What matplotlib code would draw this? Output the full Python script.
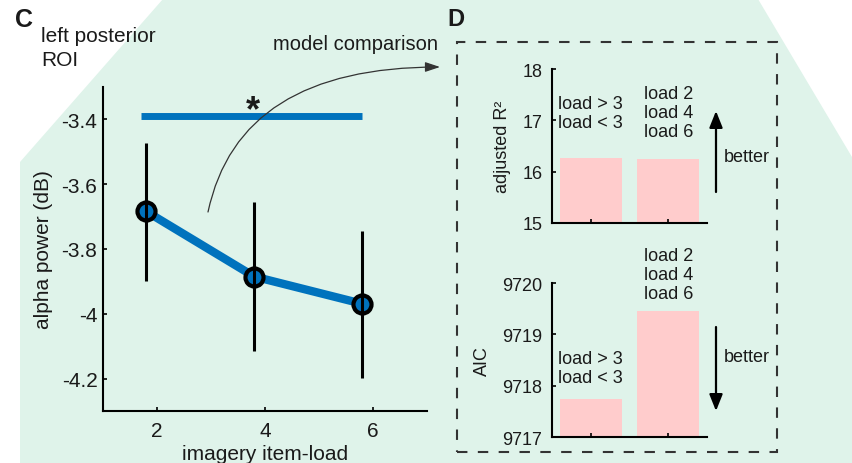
import matplotlib
matplotlib.use('Agg')
import matplotlib.pyplot as plt
from matplotlib.patches import Polygon, Rectangle, FancyArrowPatch

plt.rcParams['font.family'] = ['Liberation Sans', 'DejaVu Sans']

# ---------------- data ----------------
load_x = [1.8, 3.8, 5.8]            # plotted positions (slightly offset from ticks)
alpha_mean = [-3.684, -3.885, -3.969]
alpha_lo = [-3.900, -4.114, -4.198]
alpha_hi = [-3.474, -3.654, -3.743]
x_ticks = [2, 4, 6]
y_ticks = [-4.2, -4, -3.8, -3.6, -3.4]
y_ticklabels = ['-4.2', '-4', '-3.8', '-3.6', '-3.4']
sig_x = [1.7, 5.8]
sig_y = -3.39

models = ['load > 3\nload < 3', 'load 2\nload 4\nload 6']
model_pos = [1, 2]
adj_r2 = [16.27, 16.25]
adj_r2_ticks = [15, 16, 17, 18]
aic = [9717.74, 9719.45]
aic_ticks = [9717, 9718, 9719, 9720]

# ---------------- style ----------------
W, H = 852, 464
BLUE = '#0072bd'
PINK = '#ffcccc'
GREEN = '#dff3ea'
TXT = '#1a1a1a'


def P(x, y):
    return (x / W, 1 - y / H)


def fr(x0, y0, x1, y1):
    return [x0 / W, 1 - y1 / H, (x1 - x0) / W, (y1 - y0) / H]


fig = plt.figure(figsize=(W / 100, H / 100), dpi=100, facecolor='white')

# green background shape
fig.add_artist(Polygon([P(20, 464), P(20, 163), P(163, 0), P(758, 0), P(852, 158), P(852, 464)],
                       closed=True, transform=fig.transFigure, fc=GREEN, ec='none', zorder=-5))


def style_axes(ax, fs):
    ax.set_facecolor('none')
    for s in ['top', 'right']:
        ax.spines[s].set_visible(False)
    for s in ['left', 'bottom']:
        ax.spines[s].set_linewidth(1.5)
        ax.spines[s].set_color('black')
    ax.tick_params(direction='in', length=3, width=1.2, labelsize=fs, colors='black', labelcolor=TXT)


# ---------------- panel C ----------------
ax = fig.add_axes(fr(103, 88, 427, 412))
style_axes(ax, 15)
ax.tick_params(axis='y', pad=4)
ax.tick_params(axis='x', pad=7)
ax.plot(load_x, alpha_mean, color=BLUE, lw=6, zorder=2, solid_joinstyle='round')
ax.plot(load_x, alpha_mean, 'o', ms=13, mfc=BLUE, mec='black', mew=3, zorder=3)
ax.vlines(load_x, alpha_lo, alpha_hi, color='black', lw=2.2, zorder=4)
ax.plot(sig_x, [sig_y, sig_y], color=BLUE, lw=5, solid_capstyle='butt', zorder=2)
ax.text(3.78, -3.403, '*', ha='center', va='baseline', fontsize=26,
        fontweight='bold', color=TXT)
ax.set_xlim(1, 7)
ax.set_ylim(-4.3, -3.3)
ax.set_xticks(x_ticks)
ax.set_xticklabels([str(v) for v in x_ticks])
ax.set_yticks(y_ticks)
ax.set_yticklabels(y_ticklabels)
ax.set_xlabel('imagery item-load', fontsize=15, color=TXT, labelpad=3)
ax.set_ylabel('alpha power (dB)', fontsize=15, color=TXT, labelpad=6)

fig.text(*P(24, 20), 'C', fontsize=18, fontweight='bold', ha='center', va='center', color=TXT)
fig.text(*P(41, 27), 'left posterior\nROI', fontsize=15, ha='left', va='top', color=TXT,
         linespacing=1.3)
fig.text(*P(273, 50), 'model comparison', fontsize=14.5, ha='left', va='baseline', color=TXT)

fig.add_artist(FancyArrowPatch(P(208, 213), P(440, 68), transform=fig.transFigure,
                               connectionstyle='angle3,angleA=78,angleB=0',
                               arrowstyle='-|>,head_length=0.45,head_width=0.15',
                               mutation_scale=20, lw=0.9, color='#333333',
                               shrinkA=0, shrinkB=0, zorder=5))

# ---------------- panel D ----------------
fig.text(*P(456, 20), 'D', fontsize=17, fontweight='bold', ha='center', va='center', color=TXT)
fig.add_artist(Rectangle(P(457, 453), (777 - 457) / W, (453 - 43) / H, transform=fig.transFigure,
                         fill=False, ec='#333333', lw=1.5, ls=(0, (5, 5)), zorder=1))

# adjusted R2
ax1 = fig.add_axes(fr(552, 70, 707, 224))
style_axes(ax1, 13)
ax1.tick_params(axis='y', pad=7)
ax1.bar(model_pos, adj_r2, width=0.8, color=PINK, zorder=1)
ax1.set_xlim(0.5, 2.5)
ax1.set_ylim(15, 18)
ax1.set_yticks(adj_r2_ticks)
ax1.set_xticks(model_pos)
ax1.set_xticklabels([])
ax1.set_ylabel('adjusted R²', fontsize=13, color=TXT, labelpad=8)
for xp, lab in zip(model_pos, models):
    ax1.text(xp, 17.15, lab, ha='center', va='center', fontsize=13, color=TXT, linespacing=1.15)

# AIC
ax2 = fig.add_axes(fr(552, 284, 707, 438))
style_axes(ax2, 13)
ax2.tick_params(axis='y', pad=7)
ax2.bar(model_pos, aic, width=0.8, color=PINK, zorder=1)
ax2.set_xlim(0.5, 2.5)
ax2.set_ylim(9717, 9720)
ax2.set_yticks(aic_ticks)
ax2.set_xticks(model_pos)
ax2.set_xticklabels([])
ax2.set_ylabel('AIC', fontsize=13, color=TXT, labelpad=8)
aic_text_y = [9718.35, 9720.16]
for xp, lab, ty in zip(model_pos, models, aic_text_y):
    ax2.text(xp, ty, lab, ha='center', va='center', fontsize=13, color=TXT, linespacing=1.15,
             clip_on=False)

# "better" arrows
for (y0, y1), ty in [((193, 112), 157), ((328, 412), 358)]:
    fig.add_artist(FancyArrowPatch(P(716, y0), P(716, y1), transform=fig.transFigure,
                                   arrowstyle='-|>,head_length=0.5,head_width=0.2',
                                   mutation_scale=20, lw=1.6, color='black',
                                   shrinkA=0, shrinkB=0, zorder=5))
    fig.text(*P(724, ty), 'better', fontsize=13, ha='left', va='center', color=TXT)

fig.savefig('out.png', dpi=100, facecolor='white')
